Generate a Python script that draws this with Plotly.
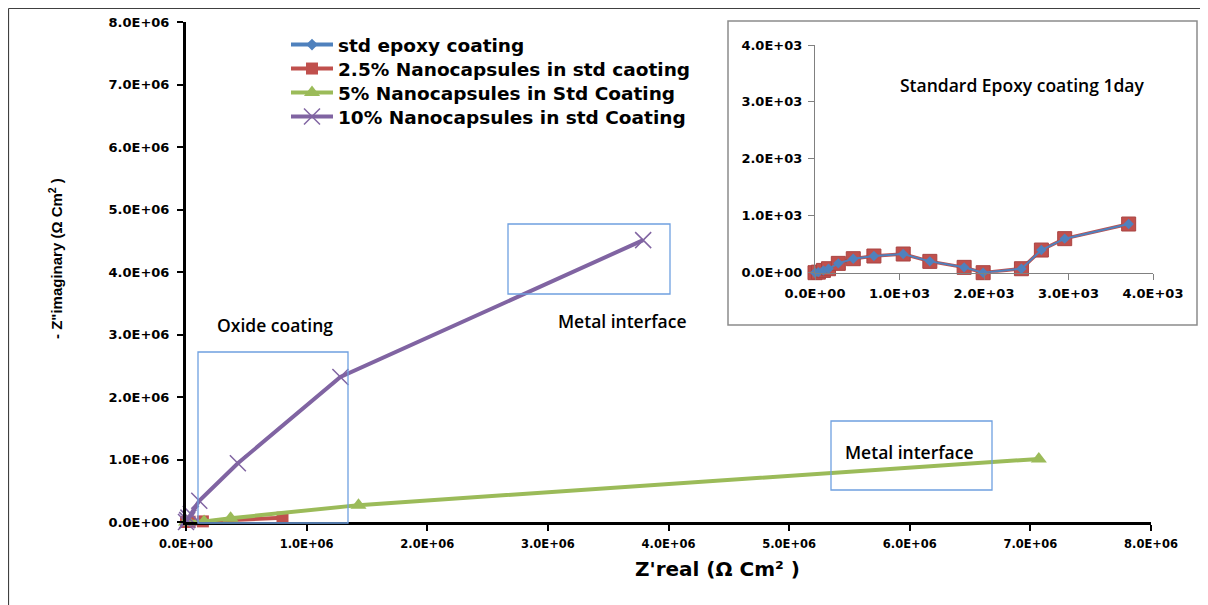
import plotly.graph_objects as go

W, H = 1208, 605

# ---------------- data ----------------
series_names = [
    "std epoxy coating",
    "2.5% Nanocapsules in std caoting",
    "5% Nanocapsules in Std Coating",
    "10% Nanocapsules in std Coating",
]

# Standard epoxy coating (Ω·cm²) – also shown in the inset
std_zreal = [0, 40, 100, 160, 276, 453, 697, 1044, 1359, 1765, 1990, 2443, 2679, 2955, 3712]
std_zimag = [0, 10, 40, 70, 164, 246, 293, 328, 199, 94, 0, 70, 398, 598, 855]

nano25_zreal = [0, 0.03e6, 0.14e6, 0.80e6]
nano25_zimag = [0, 0.005e6, 0.01e6, 0.07e6]

nano5_zreal = [0, 0.02e6, 0.15e6, 0.37e6, 1.43e6, 7.07e6]
nano5_zimag = [0, 0.005e6, 0.01e6, 0.06e6, 0.27e6, 1.01e6]

nano10_zreal = [0, 0.01e6, 0.02e6, 0.04e6, 0.11e6, 0.43e6, 1.28e6, 3.79e6]
nano10_zimag = [0, 0.03e6, 0.07e6, 0.13e6, 0.34e6, 0.94e6, 2.32e6, 4.51e6]

main_tickvals = [0, 1e6, 2e6, 3e6, 4e6, 5e6, 6e6, 7e6, 8e6]
main_ticktext = ["0.0E+00", "1.0E+06", "2.0E+06", "3.0E+06", "4.0E+06",
                 "5.0E+06", "6.0E+06", "7.0E+06", "8.0E+06"]
inset_tickvals = [0, 1000, 2000, 3000, 4000]
inset_ticktext = ["0.0E+00", "1.0E+03", "2.0E+03", "3.0E+03", "4.0E+03"]

note_texts = ["Oxide coating", "Metal interface", "Metal interface", "Standard Epoxy coating 1day"]
x_title = "Z'real (Ω Cm² )"
y_title = "- Z\"imaginary (Ω Cm<sup>2</sup> )"

# ---------------- style ----------------
BLUE = "#4F81BD"
RED = "#C0504D"
GREEN = "#9BBB59"
PURPLE = "#8064A2"
BOXC = "#6FA0E0"

OFF = 8  # page body margin of the viewer


def px(x):
    return (x - OFF) / W


def py(y):
    return 1 - (y - OFF) / H


legend_ids = ["legend", "legend2", "legend3", "legend4"]

fig = go.Figure()

# main traces
fig.add_trace(go.Scatter(x=std_zreal, y=std_zimag, name=series_names[0], mode="lines+markers",
                         line=dict(color=BLUE, width=4), marker=dict(symbol="diamond", size=9, color=BLUE),
                         cliponaxis=False, xaxis="x", yaxis="y", legend=legend_ids[0]))
fig.add_trace(go.Scatter(x=nano25_zreal, y=nano25_zimag, name=series_names[1], mode="lines+markers",
                         line=dict(color=RED, width=4), marker=dict(symbol="square", size=12, color=RED),
                         cliponaxis=False, xaxis="x", yaxis="y", legend=legend_ids[1]))
fig.add_trace(go.Scatter(x=nano5_zreal, y=nano5_zimag, name=series_names[2], mode="lines+markers",
                         line=dict(color=GREEN, width=4), marker=dict(symbol="triangle-up", size=14, color=GREEN),
                         cliponaxis=False, xaxis="x", yaxis="y", legend=legend_ids[2]))
fig.add_trace(go.Scatter(x=nano10_zreal, y=nano10_zimag, name=series_names[3], mode="lines+markers",
                         line=dict(color=PURPLE, width=4),
                         marker=dict(symbol="x-thin", size=16, color=PURPLE, line=dict(color=PURPLE, width=1.5)),
                         cliponaxis=False, xaxis="x", yaxis="y", legend=legend_ids[3]))

# inset traces
fig.add_trace(go.Scatter(x=std_zreal, y=std_zimag, mode="lines+markers", showlegend=False,
                         line=dict(color=RED, width=3.5),
                         marker=dict(symbol="square", size=14, color=RED, line=dict(color="#A94442", width=1)),
                         cliponaxis=False, xaxis="x2", yaxis="y2"))
fig.add_trace(go.Scatter(x=std_zreal, y=std_zimag, mode="lines+markers", showlegend=False,
                         line=dict(color=BLUE, width=2), marker=dict(symbol="diamond", size=8, color=BLUE),
                         cliponaxis=False, xaxis="x2", yaxis="y2"))

tickfont_main_x = dict(family="DejaVu Sans", size=11.5, color="black", weight="bold")
tickfont_main_y = dict(family="DejaVu Sans", size=13, color="black", weight="bold")
tickfont_inset = dict(family="DejaVu Sans", size=13, color="black", weight="bold")

legend_font = dict(family="DejaVu Sans", size=18.5, color="black", weight="bold")
legend_rows = [45, 69, 93, 117]
legend_layout = {}
for lid, row in zip(legend_ids, legend_rows):
    legend_layout[lid] = dict(x=px(286), y=py(row), xanchor="left", yanchor="middle",
                              bgcolor="rgba(0,0,0,0)", font=legend_font, itemwidth=42)

fig.update_layout(
    width=W, height=H,
    margin=dict(l=0, r=0, t=0, b=0, pad=0, autoexpand=False),
    paper_bgcolor="white", plot_bgcolor="rgba(0,0,0,0)",
    xaxis=dict(domain=[px(186), px(1151)], range=[0, 8e6], anchor="y", automargin=False,
               tickvals=main_tickvals, ticktext=main_ticktext, tickfont=tickfont_main_x,
               ticks="outside", ticklen=6, tickwidth=2, tickcolor="black",
               showline=True, linewidth=3, linecolor="black", showgrid=False, zeroline=False,
               ticklabelstandoff=3),
    yaxis=dict(domain=[py(522), py(22)], range=[0, 8e6], anchor="x", automargin=False,
               tickvals=main_tickvals, ticktext=main_ticktext, tickfont=tickfont_main_y,
               ticks="outside", ticklen=6, tickwidth=2, tickcolor="black",
               showline=True, linewidth=3, linecolor="black", showgrid=False, zeroline=False,
               ticklabelstandoff=5),
    xaxis2=dict(domain=[px(815), px(1153)], range=[0, 4000], anchor="y2", automargin=False,
                tickvals=inset_tickvals, ticktext=inset_ticktext, tickfont=tickfont_inset,
                ticks="outside", ticklen=6, tickwidth=1, tickcolor="#808080",
                showline=True, linewidth=1.2, linecolor="#808080", showgrid=False, zeroline=False,
                ticklabelstandoff=3),
    yaxis2=dict(domain=[py(272.7), py(45)], range=[0, 4000], anchor="x2", automargin=False,
                tickvals=inset_tickvals, ticktext=inset_ticktext, tickfont=tickfont_inset,
                ticks="outside", ticklen=6, tickwidth=1, tickcolor="#808080",
                showline=True, linewidth=1.2, linecolor="#808080", showgrid=False, zeroline=False,
                ticklabelstandoff=3),
    showlegend=True,
    **legend_layout,
)

note_font = dict(family="Open Sans", size=17.5, color="black", weight=600)
note_pos = [(275, 325), (622, 321), (909, 452), (1022, 85)]
for t, (ax, ay) in zip(note_texts, note_pos):
    fig.add_annotation(x=px(ax), y=py(ay), xref="paper", yref="paper", text=t, showarrow=False,
                       font=note_font, xanchor="center", yanchor="middle")

fig.add_annotation(x=px(718), y=py(569), xref="paper", yref="paper", text=x_title, showarrow=False,
                   font=dict(family="DejaVu Sans", size=20, color="black", weight="bold"),
                   xanchor="center", yanchor="middle")
fig.add_annotation(x=px(55), y=py(259), xref="paper", yref="paper", text=y_title, showarrow=False,
                   textangle=-90,
                   font=dict(family="Liberation Sans", size=15, color="black", weight="bold"),
                   xanchor="center", yanchor="middle")

# boxes
for (x0, y0, x1, y1) in [(198, 352, 348, 523), (508, 224, 670, 294), (831, 421, 992, 490)]:
    fig.add_shape(type="rect", xref="paper", yref="paper", x0=px(x0), y0=py(y0), x1=px(x1), y1=py(y1),
                  line=dict(color=BOXC, width=1.3), fillcolor="rgba(0,0,0,0)", layer="above")

# inset frame
fig.add_shape(type="rect", xref="paper", yref="paper", x0=px(728), y0=py(21), x1=px(1197), y1=py(325),
              line=dict(color="#8C8C8C", width=1.5), fillcolor="rgba(0,0,0,0)", layer="below")

# outer frame
fig.add_shape(type="line", xref="paper", yref="paper", x0=px(8.5), y0=py(8.5), x1=px(8.5), y1=py(605),
              line=dict(color="#404040", width=1.2))
fig.add_shape(type="line", xref="paper", yref="paper", x0=px(8.5), y0=py(8.5), x1=px(1203), y1=py(8.5),
              line=dict(color="#404040", width=1.2))
fig.add_shape(type="line", xref="paper", yref="paper", x0=px(1203), y0=py(8.5), x1=px(1203), y1=py(605),
              line=dict(color="#404040", width=1.2))

fig.write_html("out.html")
